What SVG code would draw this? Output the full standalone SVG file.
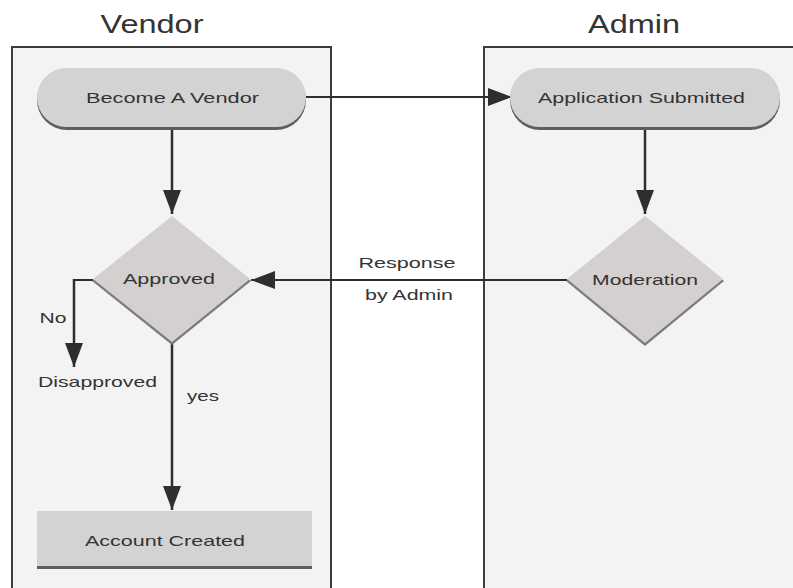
<svg xmlns="http://www.w3.org/2000/svg" width="793" height="588" viewBox="0 0 793 588">
  <defs>
    <style>
      .lane-bg { fill: #f3f3f3; }
      .lane-edge { fill: none; stroke: #3c3c3c; stroke-width: 2; }
      .title { font-family: "Liberation Sans", Arial, sans-serif; font-size: 25px; fill: #333; text-anchor: middle; }
      .label { font-family: "Liberation Sans", Arial, sans-serif; font-size: 15px; fill: #333; text-anchor: middle; }
      .shape { fill: #d3d3d3; }
      .shade { fill: #5e5e5e; }
      .dia { fill: #d4d0d0; }
      .diashade { fill: #7c7c7c; }
      .wire { fill: none; stroke: #2e2e2e; stroke-width: 2.5; }
      .wire-h { fill: none; stroke: #2e2e2e; stroke-width: 2; }
    </style>
    <marker id="arrow" viewBox="0 0 24 18" refX="24" refY="9" markerWidth="24" markerHeight="18" markerUnits="userSpaceOnUse" orient="auto">
      <path d="M0,0 L24,9 L0,18 Z" fill="#2e2e2e"/>
    </marker>
  </defs>

  <rect width="793" height="588" fill="#ffffff"/>

  <!-- swimlanes -->
  <g id="lane-vendor">
    <rect class="lane-bg" x="12" y="47" width="319" height="541"/>
    <path class="lane-edge" d="M12,588 V47 H331 V588"/>
    <text class="title" x="152" y="33" textLength="103" lengthAdjust="spacingAndGlyphs">Vendor</text>
  </g>
  <g id="lane-admin">
    <rect class="lane-bg" x="484" y="47" width="309" height="541"/>
    <path class="lane-edge" d="M484,588 V47 H793"/>
    <text class="title" x="634" y="33" textLength="92" lengthAdjust="spacingAndGlyphs">Admin</text>
  </g>

  <!-- connectors -->
  <g id="connectors">
    <path class="wire-h" d="M306,97 H512" marker-end="url(#arrow)"/>
    <path class="wire" d="M645,129 V214" marker-end="url(#arrow)"/>
    <path class="wire-h" d="M567,280 H251" marker-end="url(#arrow)"/>
    <path class="wire" d="M172,129 V214" marker-end="url(#arrow)"/>
    <path class="wire-h" d="M93,280 H74"/>
    <path class="wire" d="M74,279 V367" marker-end="url(#arrow)"/>
    <path class="wire" d="M172,343 V510" marker-end="url(#arrow)"/>
    <text class="label" x="407" y="268" textLength="97" lengthAdjust="spacingAndGlyphs">Response</text>
    <text class="label" x="409" y="300" textLength="88" lengthAdjust="spacingAndGlyphs">by Admin</text>
    <text class="label" x="53" y="323" textLength="27" lengthAdjust="spacingAndGlyphs">No</text>
    <text class="label" x="203" y="401" textLength="32" lengthAdjust="spacingAndGlyphs">yes</text>
  </g>

  <!-- nodes -->
  <g id="become-vendor">
    <rect class="shade" x="37" y="70" width="269" height="60" rx="30"/>
    <rect class="shape" x="37" y="68" width="269" height="59" rx="29.5"/>
    <text class="label" x="172.5" y="103" textLength="173" lengthAdjust="spacingAndGlyphs">Become A Vendor</text>
  </g>

  <g id="application-submitted">
    <rect class="shade" x="510" y="70" width="270" height="60" rx="30"/>
    <rect class="shape" x="510" y="68" width="270" height="59" rx="29.5"/>
    <text class="label" x="641.5" y="103" textLength="207" lengthAdjust="spacingAndGlyphs">Application Submitted</text>
  </g>

  <g id="moderation">
    <polygon class="diashade" points="645,218 724,281 645,346 566,281"/>
    <polygon class="dia" points="645,216 723,279 645,343 567,279"/>
    <text class="label" x="645" y="285" textLength="106" lengthAdjust="spacingAndGlyphs">Moderation</text>
  </g>

  <g id="approved">
    <polygon class="diashade" points="172,218 251,281 172,345 92,281"/>
    <polygon class="dia" points="172,216 250,279 172,342 93,279"/>
    <text class="label" x="169" y="284" textLength="92" lengthAdjust="spacingAndGlyphs">Approved</text>
  </g>

  <g id="disapproved">
    <text class="label" x="97.5" y="387" textLength="119" lengthAdjust="spacingAndGlyphs">Disapproved</text>
  </g>

  <g id="account-created">
    <rect class="shade" x="37" y="512" width="275" height="57"/>
    <rect class="shape" x="37" y="511" width="275" height="55"/>
    <text class="label" x="165" y="546" textLength="160" lengthAdjust="spacingAndGlyphs">Account Created</text>
  </g>
</svg>
